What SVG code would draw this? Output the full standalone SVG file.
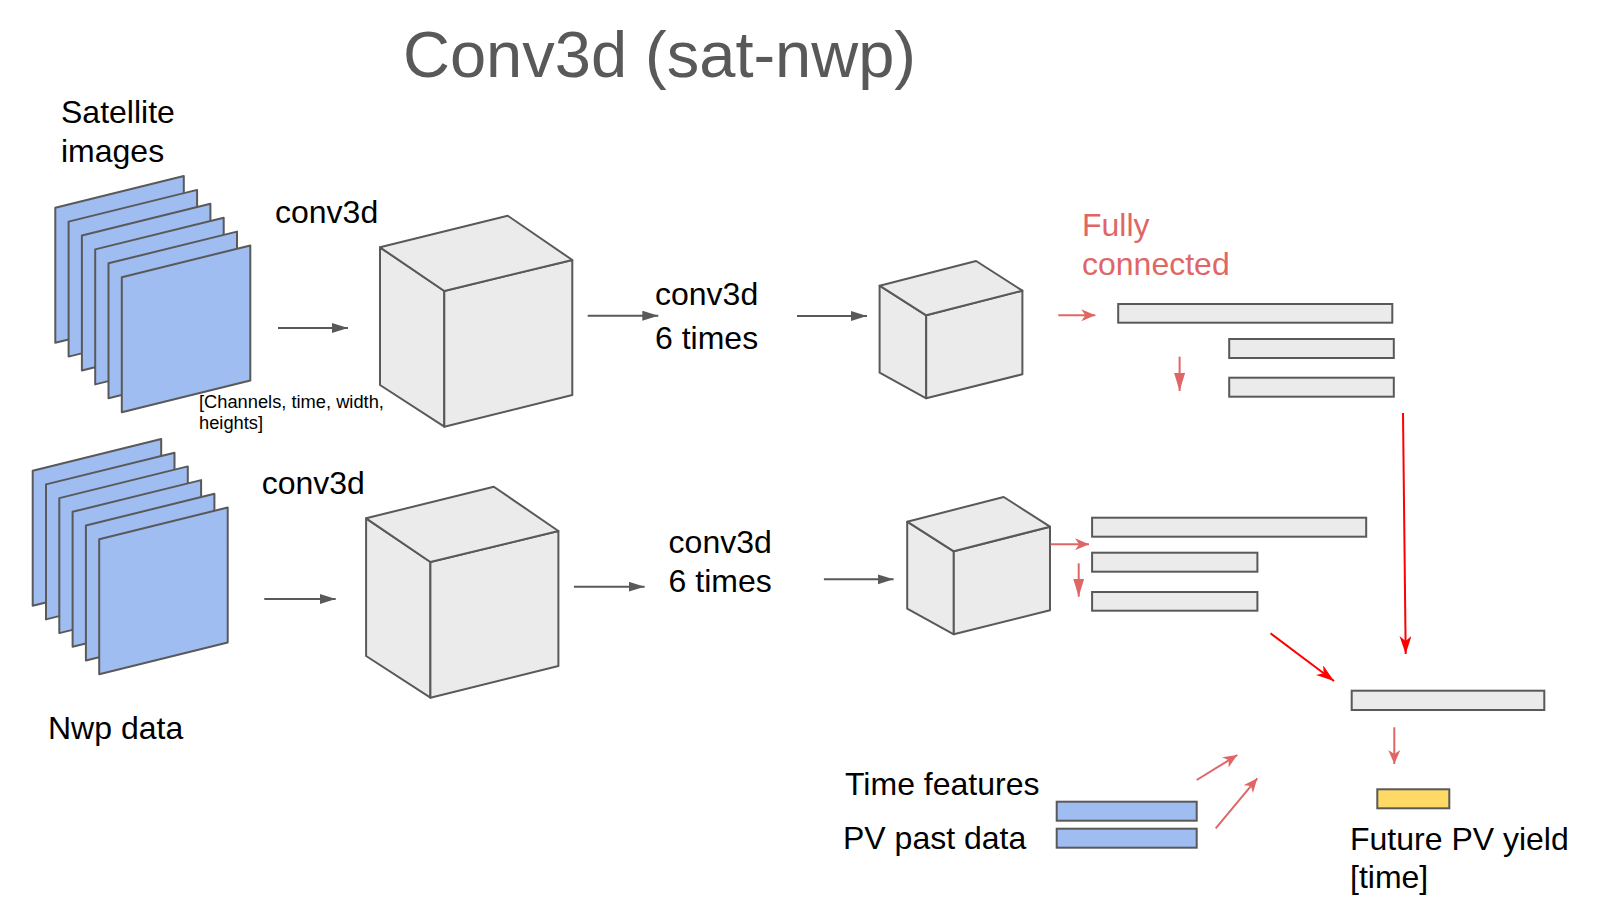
<svg xmlns="http://www.w3.org/2000/svg" xmlns:xlink="http://www.w3.org/1999/xlink" width="1622" height="914" viewBox="0 0 1622 914">
<style>
  .t { font-family: "Liberation Sans", Arial, sans-serif; fill: #000; font-size: 32px; }
  .title { font-family: "Liberation Sans", Arial, sans-serif; fill: #595959; font-size: 65px; }
  .small { font-family: "Liberation Sans", Arial, sans-serif; fill: #000; font-size: 18.3px; }
  .red { fill: #e06666; }
  .plane { fill: #9fbdf1; stroke: #595959; stroke-width: 2; stroke-linejoin: round; }
  .face { fill: #ebebeb; stroke: #595959; stroke-width: 2; stroke-linejoin: round; }
  .bar { fill: #ebebeb; stroke: #595959; stroke-width: 2; }
  .bluebar { fill: #9fbdf1; stroke: #595959; stroke-width: 2; }
  .yellowbar { fill: #ffd966; stroke: #595959; stroke-width: 2; }
  .dark { stroke: #595959; stroke-width: 2; fill: none; marker-end: url(#ahDark); }
  .lred { stroke: #e06666; stroke-width: 2; fill: none; marker-end: url(#ahLight); }
  .lredDown { stroke: #e06666; stroke-width: 2; fill: none; marker-end: url(#ahLightTri); }
  .pred { stroke: #ff0000; stroke-width: 2; fill: none; marker-end: url(#ahRed); }
</style>
<defs>
  <marker id="ahDark" markerUnits="userSpaceOnUse" markerWidth="18" markerHeight="12" refX="16" refY="5" orient="auto">
    <path d="M0,0 L16,5 L0,10 z" fill="#595959"/>
  </marker>
  <marker id="ahLight" markerUnits="userSpaceOnUse" markerWidth="16" markerHeight="14" refX="14" refY="6" orient="auto">
    <path d="M0,0 L14,6 L0,12 L4,6 z" fill="#e06666"/>
  </marker>
  <marker id="ahLightTri" markerUnits="userSpaceOnUse" markerWidth="20" markerHeight="12" refX="18" refY="5.5" orient="auto">
    <path d="M0,0 L18,5.5 L0,11 z" fill="#e06666"/>
  </marker>
  <marker id="ahRed" markerUnits="userSpaceOnUse" markerWidth="20" markerHeight="14" refX="18" refY="6" orient="auto">
    <path d="M0,0 L18,6 L0,12 L5,6 z" fill="#ff0000"/>
  </marker>
  <polygon id="plane" points="0,0 128.5,-31.7 128.5,103.3 0,135"/>
  <g id="cube">
    <polygon class="face" points="380,247.3 444.3,291 444.3,426.7 380,385"/>
    <polygon class="face" points="444.3,291 572.3,260 572.3,395 444.3,426.7"/>
    <polygon class="face" points="380,247.3 507.7,215.7 572.3,260 444.3,291"/>
  </g>
  <g id="smallcube">
    <polygon class="face" points="879.6,285.7 926.2,315.3 926.2,398.3 879.6,372.7"/>
    <polygon class="face" points="926.2,315.3 1022.4,290.7 1022.4,374.3 926.2,398.3"/>
    <polygon class="face" points="879.6,285.7 976.1,261 1022.4,290.7 926.2,315.3"/>
  </g>
</defs>
<rect width="1622" height="914" fill="#ffffff"/>

<text class="title" x="403" y="77">Conv3d (sat-nwp)</text>

<g id="satellite">
  <use xlink:href="#plane" class="plane" x="55.3" y="207.7"/>
  <use xlink:href="#plane" class="plane" x="68.6" y="221.6"/>
  <use xlink:href="#plane" class="plane" x="81.9" y="235.5"/>
  <use xlink:href="#plane" class="plane" x="95.2" y="249.4"/>
  <use xlink:href="#plane" class="plane" x="108.5" y="263.3"/>
  <use xlink:href="#plane" class="plane" x="121.8" y="277.2"/>
  <text class="t" x="61" y="123">Satellite</text>
  <text class="t" x="61" y="162">images</text>
  <text class="small" x="199" y="408">[Channels, time, width,</text>
  <text class="small" x="199" y="429">heights]</text>
</g>

<g id="nwp">
  <use xlink:href="#plane" class="plane" x="32.7" y="470.7"/>
  <use xlink:href="#plane" class="plane" x="46.0" y="484.4"/>
  <use xlink:href="#plane" class="plane" x="59.3" y="498.1"/>
  <use xlink:href="#plane" class="plane" x="72.6" y="511.8"/>
  <use xlink:href="#plane" class="plane" x="85.9" y="525.5"/>
  <use xlink:href="#plane" class="plane" x="99.2" y="539.2"/>
  <text class="t" x="48" y="739">Nwp data</text>
</g>

<g id="cube-sat"><use xlink:href="#cube"/></g>
<g id="cube-nwp"><use xlink:href="#cube" transform="translate(-13.9,271)"/></g>
<g id="smallcube-sat"><use xlink:href="#smallcube"/></g>
<g id="smallcube-nwp"><use xlink:href="#smallcube" transform="translate(27.6,236)"/></g>

<g id="fc-sat">
  <rect class="bar" x="1118.2" y="304" width="274.1" height="18.7"/>
  <rect class="bar" x="1229.2" y="339" width="164.6" height="19"/>
  <rect class="bar" x="1229.2" y="377.7" width="164.6" height="19"/>
</g>
<g id="fc-nwp">
  <rect class="bar" x="1092.1" y="517.7" width="274.1" height="19"/>
  <rect class="bar" x="1092.1" y="552.7" width="165.3" height="19"/>
  <rect class="bar" x="1092.1" y="592" width="165.3" height="18.7"/>
</g>
<g id="fc-merge">
  <rect class="bar" x="1351.7" y="690.7" width="192.6" height="19.3"/>
</g>
<g id="output">
  <rect class="yellowbar" x="1377.3" y="789.3" width="72" height="19"/>
  <text class="t" x="1350" y="850">Future PV yield</text>
  <text class="t" x="1350" y="888">[time]</text>
</g>
<g id="time-features">
  <rect class="bluebar" x="1056.7" y="801.7" width="140" height="19"/>
  <text class="t" x="845" y="795">Time features</text>
</g>
<g id="pv-past">
  <rect class="bluebar" x="1056.7" y="828.7" width="140" height="19"/>
  <text class="t" x="843" y="849">PV past data</text>
</g>

<g id="labels">
  <text class="t" x="275" y="223">conv3d</text>
  <text class="t" x="261.7" y="494.3">conv3d</text>
  <text class="t" x="655" y="305">conv3d</text>
  <text class="t" x="655" y="349">6 times</text>
  <text class="t" x="668.6" y="553.3">conv3d</text>
  <text class="t" x="668.6" y="592">6 times</text>
  <text class="t red" x="1082" y="236">Fully</text>
  <text class="t red" x="1082" y="275">connected</text>
</g>

<g id="connectors">
  <line class="dark" x1="278" y1="328" x2="348" y2="328"/>
  <line class="dark" x1="587.7" y1="315.7" x2="658.3" y2="315.7"/>
  <line class="dark" x1="797" y1="316" x2="867" y2="316"/>
  <line class="dark" x1="264.3" y1="599" x2="335.7" y2="599"/>
  <line class="dark" x1="573.9" y1="586.7" x2="644.6" y2="586.7"/>
  <line class="dark" x1="823.9" y1="579.3" x2="893.6" y2="579.3"/>

  <line class="lred" x1="1058.3" y1="315.3" x2="1095.3" y2="315.3"/>
  <line class="lredDown" x1="1179.6" y1="356.7" x2="1179.6" y2="391"/>
  <line class="lred" x1="1050.5" y1="544.3" x2="1089" y2="544.3"/>
  <line class="lredDown" x1="1078.7" y1="563.3" x2="1078.7" y2="596.7"/>
  <line class="lred" x1="1196.7" y1="780" x2="1237.3" y2="755"/>
  <line class="lred" x1="1215.7" y1="828.3" x2="1257.3" y2="778.3"/>
  <line class="lred" x1="1394.3" y1="727.3" x2="1394.3" y2="764"/>

  <line class="pred" x1="1403" y1="413" x2="1405.7" y2="654"/>
  <line class="pred" x1="1270.5" y1="633.3" x2="1334" y2="681"/>
</g>
</svg>
